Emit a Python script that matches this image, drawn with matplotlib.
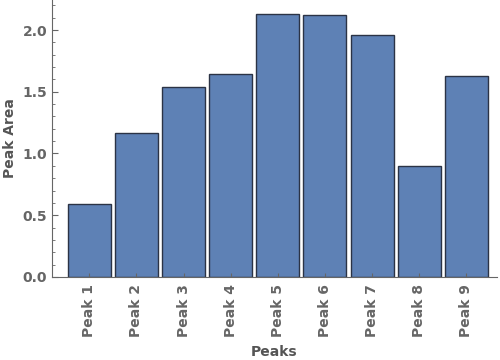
import matplotlib
matplotlib.use("Agg")
import matplotlib.pyplot as plt
from matplotlib.ticker import MultipleLocator

# Data
peaks = ["Peak 1", "Peak 2", "Peak 3", "Peak 4", "Peak 5",
         "Peak 6", "Peak 7", "Peak 8", "Peak 9"]
areas = [0.59, 1.166, 1.538, 1.644, 2.13, 2.12, 1.96, 0.899, 1.628]

positions = list(range(1, len(peaks) + 1))

fig = plt.figure(figsize=(5, 3.6), dpi=100)
ax = fig.add_axes([0.104, 0.2306, 0.89, 0.7694])

ax.bar(positions, areas, width=0.91, color="#5E81B5",
       edgecolor="#2b3345", linewidth=1.0)

ax.set_xlim(0.21, 9.65)
ax.set_ylim(0, 2.243)
ax.set_xticks(positions)
ax.set_xticklabels(peaks, rotation=90)
ax.yaxis.set_major_locator(MultipleLocator(0.5))
ax.yaxis.set_minor_locator(MultipleLocator(0.1))
ax.yaxis.set_major_formatter(plt.FuncFormatter(lambda v, p: f"{v:.1f}"))

for s in ["top", "right"]:
    ax.spines[s].set_visible(False)
for s in ["left", "bottom"]:
    ax.spines[s].set_color("#666666")

ax.tick_params(axis="both", direction="in", colors="#666666",
               labelsize=10)
ax.tick_params(axis="y", which="major", length=4)
ax.tick_params(axis="y", which="minor", length=2, direction="in",
               colors="#666666")
ax.tick_params(axis="x", length=3, pad=5)
for lbl in ax.get_xticklabels() + ax.get_yticklabels():
    lbl.set_fontweight("bold")

ax.set_xlabel("Peaks", fontsize=10, fontweight="bold", color="#555555",
              labelpad=6)
ax.set_ylabel("Peak Area", fontsize=10, fontweight="bold", color="#555555")

fig.savefig("out.png", dpi=100)
